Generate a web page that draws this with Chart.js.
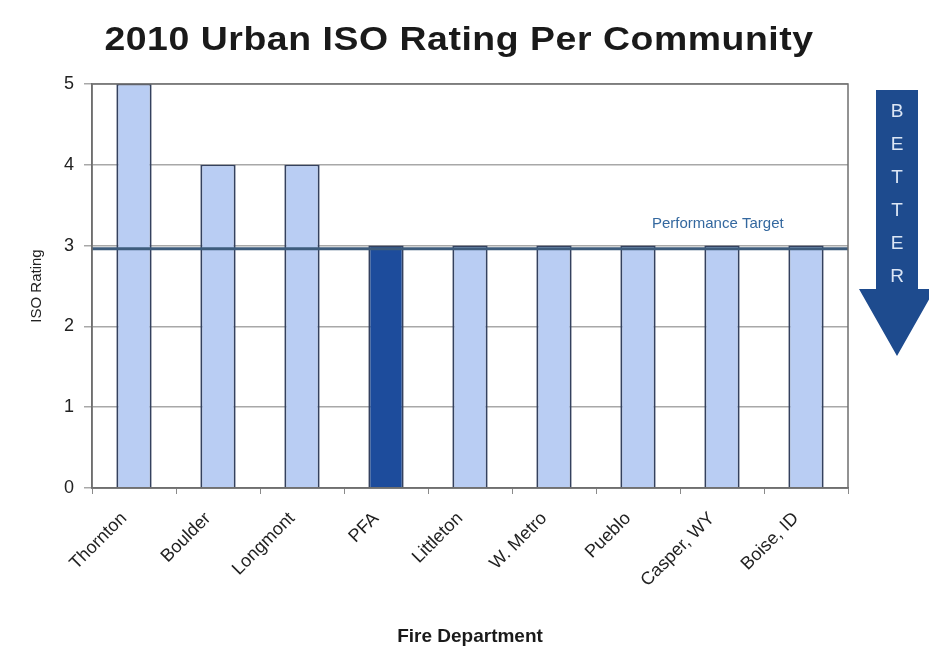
<!DOCTYPE html>
<html>
<head>
<meta charset="utf-8">
<script src="https://cdn.jsdelivr.net/npm/chart.js@4/dist/chart.umd.min.js"></script>
<style>
  html, body { margin: 0; padding: 0; background: #ffffff; }
  #wrap { width: 929px; height: 650px; }
</style>
</head>
<body>
<div id="wrap"><canvas id="isoChart" width="929" height="650"></canvas></div>
<script>
// Departments and their 2010 ISO ratings
const departments = ['Thornton', 'Boulder', 'Longmont', 'PFA', 'Littleton', 'W. Metro', 'Pueblo', 'Casper, WY', 'Boise, ID'];
const ratings = [5, 4, 4, 3, 3, 3, 3, 3, 3];
const targetRating = 2.96;
const yTicks = [0, 1, 2, 3, 4, 5];
const arrowLetters = ['B', 'E', 'T', 'T', 'E', 'R'];
const chartTitle = '2010 Urban ISO Rating Per Community';

const lightFill = '#b9cdf3';
const highlightFill = '#1d4c9c';
const barFill = departments.map(d => d === 'PFA' ? highlightFill : lightFill);
const FONT = 'Arial, "Liberation Sans", sans-serif';

// Wide bold heading, drawn by hand and stretched a little horizontally
const headingPlugin = {
    id: 'heading',
    afterDraw(chart) {
        const { ctx } = chart;
        ctx.save();
        ctx.translate(459, 50);
        ctx.scale(1.1, 1);
        ctx.fillStyle = '#1a1a1a';
        ctx.font = 'bold 34px ' + FONT;
        ctx.letterSpacing = '0.5px';
        ctx.textAlign = 'center';
        ctx.textBaseline = 'alphabetic';
        ctx.fillText(chartTitle, 0, 0);
        ctx.restore();
    }
};

// Horizontal target line plus its caption
const targetLinePlugin = {
    id: 'targetLine',
    afterDatasetsDraw(chart) {
        const { ctx, chartArea, scales } = chart;
        const y = scales.y.getPixelForValue(targetRating);
        ctx.save();
        ctx.strokeStyle = '#3e5c7c';
        ctx.lineWidth = 3;
        ctx.beginPath();
        ctx.moveTo(chartArea.left, y);
        ctx.lineTo(chartArea.right, y);
        ctx.stroke();
        ctx.fillStyle = '#34689f';
        ctx.font = '15px ' + FONT;
        ctx.textAlign = 'center';
        ctx.textBaseline = 'bottom';
        ctx.fillText('Performance Target', scales.x.getPixelForValue(6.95), y - 17);
        ctx.restore();
    }
};

// Plot frame and the "BETTER" arrow on the right side
const framePlugin = {
    id: 'frameArrow',
    afterDraw(chart) {
        const { ctx, chartArea } = chart;
        ctx.save();
        ctx.strokeStyle = '#6f6f6f';
        ctx.lineWidth = 1.5;
        ctx.strokeRect(chartArea.left, chartArea.top, chartArea.right - chartArea.left, chartArea.bottom - chartArea.top);

        const cx = chartArea.right + 49;
        const top = 90, shaftBottom = 289, tip = 356;
        ctx.fillStyle = '#1e4b8e';
        ctx.beginPath();
        ctx.moveTo(cx - 21, top);
        ctx.lineTo(cx + 21, top);
        ctx.lineTo(cx + 21, shaftBottom);
        ctx.lineTo(cx + 38, shaftBottom);
        ctx.lineTo(cx, tip);
        ctx.lineTo(cx - 38, shaftBottom);
        ctx.lineTo(cx - 21, shaftBottom);
        ctx.closePath();
        ctx.fill();

        ctx.fillStyle = '#dce6f5';
        ctx.font = '19px ' + FONT;
        ctx.textAlign = 'center';
        ctx.textBaseline = 'middle';
        arrowLetters.forEach((ch, i) => {
            ctx.fillText(ch, cx, 112 + i * 33);
        });
        ctx.restore();
    }
};

new Chart(document.getElementById('isoChart'), {
    type: 'bar',
    data: {
        labels: departments,
        datasets: [{
            label: 'ISO Rating',
            data: ratings,
            backgroundColor: barFill,
            borderColor: '#34415e',
            borderWidth: { top: 1.5, left: 2, right: 2, bottom: 0 },
            borderSkipped: 'bottom',
            barPercentage: 0.42,
            categoryPercentage: 1.0,
        }]
    },
    options: {
        responsive: false,
        animation: false,
        devicePixelRatio: 1,
        layout: {
            padding: { left: 28, right: 81, top: 84, bottom: 2 }
        },
        plugins: {
            legend: { display: false },
            tooltip: { enabled: false },
            title: { display: false }
        },
        scales: {
            y: {
                min: 0,
                max: 5,
                afterBuildTicks(scale) {
                    scale.ticks = yTicks.map(v => ({ value: v }));
                },
                afterFit(scale) { scale.width = 64; },
                ticks: {
                    color: '#222222',
                    padding: 10,
                    font: { family: FONT, size: 18 }
                },
                grid: {
                    color: '#a8a8a8',
                    lineWidth: 1.5,
                    drawTicks: true,
                    tickLength: 8,
                },
                border: { display: true, color: '#6f6f6f', width: 1.5 },
                title: {
                    display: true,
                    text: 'ISO Rating',
                    color: '#222222',
                    padding: { top: 0, bottom: 2 },
                    font: { family: FONT, size: 15 }
                }
            },
            x: {
                afterFit(scale) { scale.height = 160; },
                ticks: {
                    color: '#222222',
                    minRotation: 45,
                    maxRotation: 45,
                    padding: 14,
                    labelOffset: -10,
                    font: { family: FONT, size: 18 }
                },
                grid: {
                    display: true,
                    drawOnChartArea: false,
                    offset: true,
                    color: '#8a8a8a',
                    tickLength: 6,
                },
                border: { display: true, color: '#6f6f6f', width: 1.5 },
                title: {
                    display: true,
                    text: 'Fire Department',
                    color: '#1a1a1a',
                    padding: { top: 0, bottom: 0 },
                    font: { family: FONT, size: 19, weight: 'bold' }
                }
            }
        }
    },
    plugins: [targetLinePlugin, framePlugin, headingPlugin]
});
</script>
</body>
</html>
